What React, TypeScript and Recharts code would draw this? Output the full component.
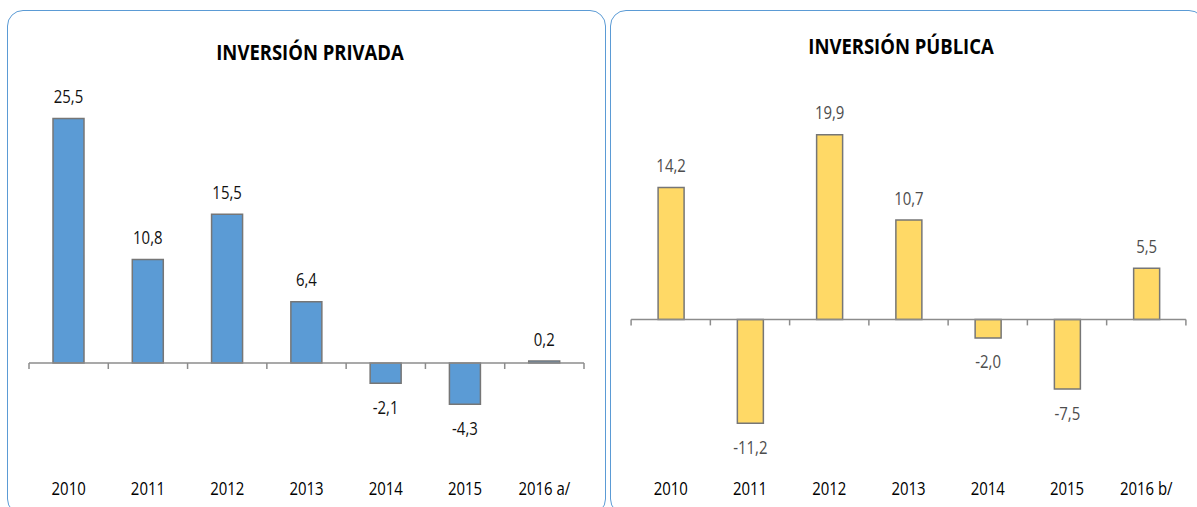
import React from 'react';
import { BarChart, Bar, XAxis, YAxis, ReferenceLine, LabelList } from 'recharts';

const yearsPrivada = ['2010', '2011', '2012', '2013', '2014', '2015', '2016 a/'];
const yearsPublica = ['2010', '2011', '2012', '2013', '2014', '2015', '2016 b/'];
const privadaValues = [25.5, 10.8, 15.5, 6.4, -2.1, -4.3, 0.2];
const publicaValues = [14.2, -11.2, 19.9, 10.7, -2.0, -7.5, 5.5];
const titles = ['INVERSIÓN PRIVADA', 'INVERSIÓN PÚBLICA'];

const privadaData = yearsPrivada.map((year, i) => ({ year, value: privadaValues[i] }));
const publicaData = yearsPublica.map((year, i) => ({ year, value: publicaValues[i] }));

const FONT = "'Open Sans', 'Noto Sans', sans-serif";
const BORDER = '#5b9bd5';
const AXIS = '#8c8c8c';
const SX = 0.83;
const FS = 18;

const fmt = (v: number) => v.toFixed(1).replace('.', ',');

const makeZeroAxis = (n: number) => (props: any) => {
  const x1 = Number(props.x1);
  const x2 = Number(props.x2);
  const y = Number(props.y1);
  const step = (x2 - x1) / n;
  const ticks = Array.from({ length: n + 1 }, (_, i) => x1 + i * step);
  return (
    <g>
      <line x1={x1} x2={x2} y1={y} y2={y} stroke={AXIS} strokeWidth={1.5} />
      {ticks.map((t, i) => (
        <line key={i} x1={t} x2={t} y1={y} y2={y + 6} stroke={AXIS} strokeWidth={1.5} />
      ))}
    </g>
  );
};

const makeLabel = (color: string) => (props: any) => {
  const x = Number(props.x);
  const y = Number(props.y);
  const width = Number(props.width);
  const height = Number(props.height);
  const v = Number(props.value);
  const top = Math.min(y, y + height);
  const bottom = Math.max(y, y + height);
  const cx = x + width / 2;
  const baseline = v >= 0 ? top - 22 + 6.5 : bottom + 24 + 6.5;
  return (
    <text
      transform={`translate(${cx},${baseline}) scale(${SX},1)`}
      textAnchor="middle"
      fill={color}
      fontSize={FS}
      fontFamily={FONT}
    >
      {fmt(v)}
    </text>
  );
};

const YearTick = (props: any) => {
  const { x, y, payload } = props;
  return (
    <text
      transform={`translate(${Number(x)},${Number(y) + 16.5}) scale(${SX},1)`}
      textAnchor="middle"
      fill="#000"
      fontSize={FS}
      fontFamily={FONT}
    >
      {payload.value}
    </text>
  );
};

type PanelProps = {
  data: { year: string; value: number }[];
  left: number;
  width: number;
  marginLeft: number;
  marginRight: number;
  domain: [number, number];
  fill: string;
  barSize: number;
  labelColor: string;
};

const Panel = ({ data, left, width, marginLeft, marginRight, domain, fill, barSize, labelColor }: PanelProps) => (
  <div
    style={{
      position: 'absolute',
      left,
      top: 10,
      width,
      height: 505,
      border: `1.5px solid ${BORDER}`,
      borderRadius: 16,
      boxSizing: 'border-box',
    }}
  >
    <div style={{ position: 'absolute', left: 0, top: 0 }}>
      <BarChart
        width={width - 3}
        height={500}
        data={data}
        margin={{ top: 64.3, right: marginRight, bottom: 22.9, left: marginLeft }}
      >
        <XAxis
          dataKey="year"
          axisLine={false}
          tickLine={false}
          tickSize={0}
          tickMargin={0}
          height={10}
          interval={0}
          tick={<YearTick />}
        />
        <YAxis hide domain={domain} type="number" allowDataOverflow />
        <Bar dataKey="value" fill={fill} stroke="#767676" strokeWidth={1.5} barSize={barSize} isAnimationActive={false}>
          <LabelList dataKey="value" content={makeLabel(labelColor)} />
        </Bar>
        <ReferenceLine y={0} shape={makeZeroAxis(data.length)} ifOverflow="extendDomain" />
      </BarChart>
    </div>
  </div>
);

export default function App() {
  return (
    <div
      style={{
        position: 'fixed',
        left: 0,
        top: 0,
        width: 1197,
        height: 507,
        overflow: 'hidden',
        background: '#fff',
      }}
    >
      <Panel
        data={privadaData}
        left={7}
        width={599}
        marginLeft={21}
        marginRight={20}
        domain={[-12, 30]}
        fill="#5b9bd5"
        barSize={31}
        labelColor="#111"
      />
      <Panel
        data={publicaData}
        left={610}
        width={595}
        marginLeft={20.1}
        marginRight={17.1}
        domain={[-17.1, 26.3]}
        fill="#ffd966"
        barSize={26}
        labelColor="#4d4d4d"
      />
      <svg
        width={1197}
        height={507}
        style={{ position: 'absolute', left: 0, top: 0, pointerEvents: 'none' }}
      >
        <text
          transform="translate(310,60) scale(0.88,1)"
          textAnchor="middle"
          fontSize={21}
          fontWeight="bold"
          fontFamily={FONT}
          fill="#000"
        >
          {titles[0]}
        </text>
        <text
          transform="translate(901,54) scale(0.88,1)"
          textAnchor="middle"
          fontSize={21}
          fontWeight="bold"
          fontFamily={FONT}
          fill="#000"
        >
          {titles[1]}
        </text>
      </svg>
    </div>
  );
}
